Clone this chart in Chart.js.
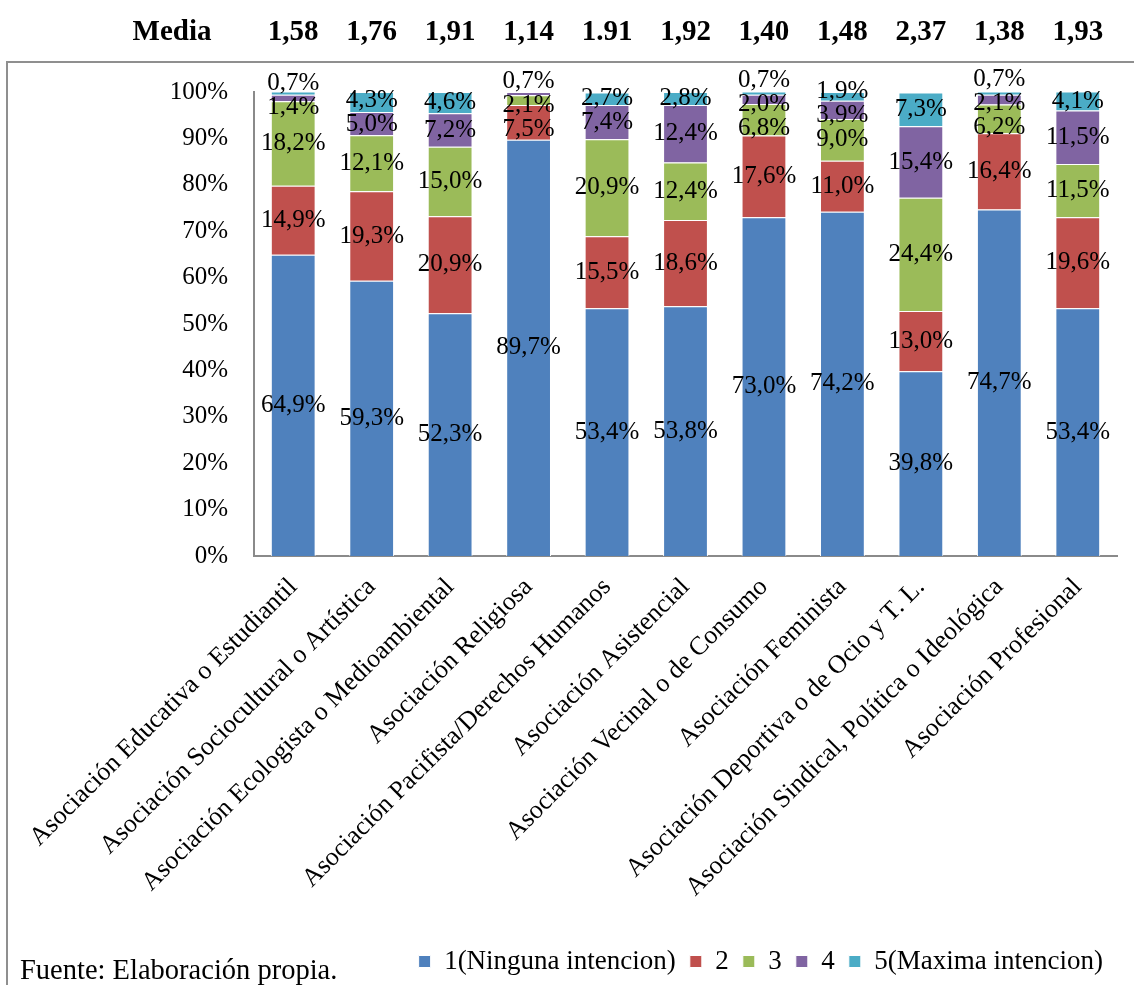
<!DOCTYPE html>
<html>
<head>
<meta charset="utf-8">
<script src="https://cdn.jsdelivr.net/npm/chart.js@4"></script>
<style>
  html, body { margin: 0; padding: 0; background: #fff; }
  #wrap { width: 1134px; height: 985px; }
</style>
</head>
<body>
<div id="wrap"><canvas id="barChart" width="1134" height="985"></canvas></div>
<script>
var categories = [
    "Asociación Educativa o Estudiantil",
    "Asociación Sociocultural o Artística",
    "Asociación Ecologista o Medioambiental",
    "Asociación Religiosa",
    "Asociación Pacifista/Derechos Humanos",
    "Asociación Asistencial",
    "Asociación Vecinal o de Consumo",
    "Asociación Feminista",
    "Asociación Deportiva o de Ocio y T. L.",
    "Asociación Sindical, Política o Ideológica",
    "Asociación Profesional",
];
var medias = ["1,58", "1,76", "1,91", "1,14", "1.91", "1,92", "1,40", "1,48", "2,37", "1,38", "1,93"];

var ninguna = [64.9, 59.3, 52.3, 89.7, 53.4, 53.8, 73.0, 74.2, 39.8, 74.7, 53.4];
var nivel2 = [14.9, 19.3, 20.9, 7.5, 15.5, 18.6, 17.6, 11.0, 13.0, 16.4, 19.6];
var nivel3 = [18.2, 12.1, 15.0, 2.1, 20.9, 12.4, 6.8, 9.0, 24.4, 6.2, 11.5];
var nivel4 = [1.4, 5.0, 7.2, 0.7, 7.4, 12.4, 2.0, 3.9, 15.4, 2.1, 11.5];
var maxima = [0.7, 4.3, 4.6, 0, 2.7, 2.8, 0.7, 1.9, 7.3, 0.7, 4.1];

var seriesNames = ["1(Ninguna intencion)", "2", "3", "4", "5(Maxima intencion)"];
var seriesData = [ninguna, nivel2, nivel3, nivel4, maxima];
var colors = ['#4F81BD', '#C0504D', '#9BBB59', '#8064A2', '#4BACC6'];

var serif = '"Liberation Serif", "Times New Roman", serif';

// percentage labels inside each segment, spread apart when they collide
var etiquetas = {
    id: 'etiquetas',
    afterDatasetsDraw: function (chart) {
        var ctx = chart.ctx;
        var alto = 24;
        ctx.save();
        ctx.font = '25px ' + serif;
        ctx.fillStyle = '#000';
        ctx.textAlign = 'center';
        ctx.textBaseline = 'middle';
        chart.data.labels.forEach(function (_, i) {
            var items = [];
            chart.data.datasets.forEach(function (ds, d) {
                var v = ds.data[i];
                if (!v) return;
                var bar = chart.getDatasetMeta(d).data[i];
                items.push({
                    texto: v.toFixed(1).replace('.', ',') + '%',
                    x: bar.x,
                    y: (bar.y + bar.base) / 2
                });
            });
            items.sort(function (a, b) { return a.y - b.y; });
            var grupos = items.map(function (it) { return { miembros: [it], suma: it.y }; });
            var cambio = true;
            while (cambio) {
                cambio = false;
                for (var k = 0; k < grupos.length - 1; k++) {
                    var a = grupos[k], b = grupos[k + 1];
                    var ca = a.suma / a.miembros.length, cb = b.suma / b.miembros.length;
                    if (ca + a.miembros.length * alto / 2 > cb - b.miembros.length * alto / 2) {
                        grupos.splice(k, 2, { miembros: a.miembros.concat(b.miembros), suma: a.suma + b.suma });
                        cambio = true;
                        break;
                    }
                }
            }
            grupos.forEach(function (g) {
                var n = g.miembros.length;
                var y0 = g.suma / n - (n - 1) * alto / 2;
                g.miembros.forEach(function (it, j) {
                    ctx.fillText(it.texto, it.x, y0 + j * alto);
                });
            });
        });
        ctx.restore();
    }
};

// frame, "Media" row above the bars and source note
var marco = {
    id: 'marco',
    beforeDraw: function (chart) {
        var ctx = chart.ctx;
        ctx.save();
        ctx.fillStyle = '#fff';
        ctx.fillRect(0, 0, chart.width, chart.height);
        ctx.strokeStyle = '#8f8f8f';
        ctx.lineWidth = 2;
        ctx.strokeRect(7, 62, chart.width + 20, chart.height + 20);
        ctx.restore();
    },
    afterDraw: function (chart) {
        var ctx = chart.ctx;
        var x = chart.scales.x;
        ctx.save();
        ctx.fillStyle = '#000';
        ctx.textBaseline = 'alphabetic';
        ctx.textAlign = 'center';
        ctx.font = 'bold 29px ' + serif;
        ctx.fillText('Media', 172, 40);
        medias.forEach(function (m, i) {
            ctx.fillText(m, x.getPixelForValue(i), 40);
        });
        ctx.textAlign = 'left';
        ctx.font = '28.5px ' + serif;
        ctx.fillText('Fuente: Elaboración propia.', 20, 979);
        ctx.restore();
    }
};

var ctx = document.getElementById('barChart').getContext('2d');
var myChart = new Chart(ctx, {
    type: 'bar',
    data: {
        labels: categories,
        datasets: seriesNames.map(function (name, k) {
            return {
                label: name,
                data: seriesData[k],
                backgroundColor: colors[k],
                borderColor: '#ffffff',
                borderWidth: 1,
                categoryPercentage: 1,
                barPercentage: 0.571
            };
        })
    },
    options: {
        responsive: false,
        animation: false,
        layout: { padding: { top: 92, right: 17, left: 0, bottom: 0 } },
        scales: {
            x: {
                stacked: true,
                grid: { display: false, drawTicks: false },
                border: { display: true, color: '#8a8a8a', width: 2 },
                ticks: {
                    autoSkip: false,
                    minRotation: 45,
                    maxRotation: 45,
                    padding: 16,
                    color: '#000',
                    font: { family: serif, size: 26 }
                },
                afterFit: function (scale) { scale.height = 378; }
            },
            y: {
                stacked: true,
                min: 0,
                max: 100,
                grid: { display: false, drawTicks: false },
                border: { display: true, color: '#8a8a8a', width: 2 },
                ticks: {
                    stepSize: 10,
                    padding: 26,
                    color: '#000',
                    font: { family: serif, size: 25 },
                    callback: function (v) { return v + '%'; }
                },
                afterFit: function (scale) { scale.width = 254; }
            }
        },
        plugins: {
            legend: {
                position: 'bottom',
                align: 'end',
                labels: {
                    boxWidth: 12,
                    boxHeight: 12,
                    padding: 14,
                    color: '#000',
                    font: { family: serif, size: 27 }
                }
            },
            tooltip: { enabled: false }
        }
    },
    plugins: [etiquetas, marco]
});
</script>
</body>
</html>
